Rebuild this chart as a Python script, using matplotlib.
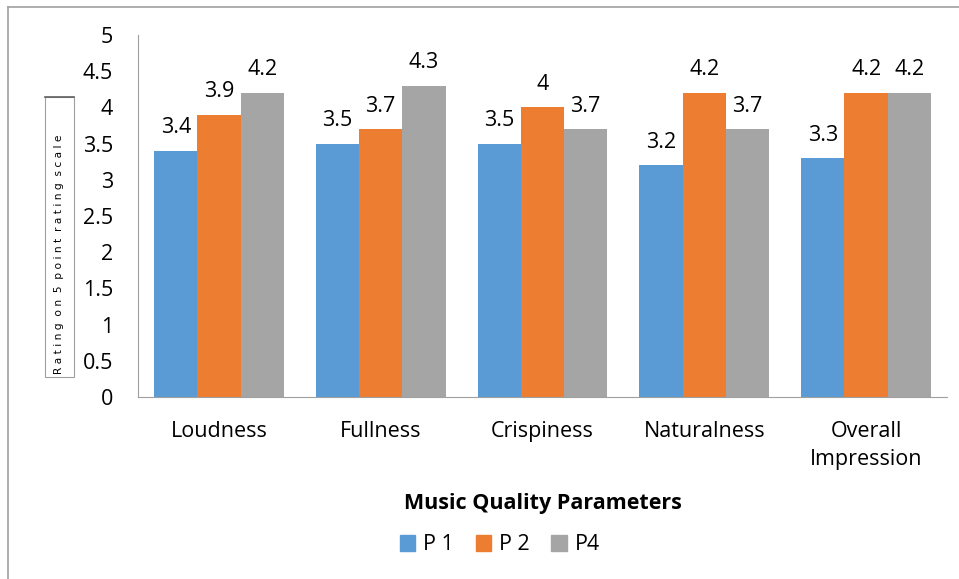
import matplotlib
matplotlib.use("Agg")
import matplotlib.pyplot as plt
import numpy as np
from matplotlib.patches import Rectangle
from matplotlib.lines import Line2D

categories = ["Loudness", "Fullness", "Crispiness", "Naturalness", "Overall\nImpression"]
series_names = ["P 1", "P 2", "P4"]
p1 = [3.4, 3.5, 3.5, 3.2, 3.3]
p2 = [3.9, 3.7, 4.0, 4.2, 4.2]
p4 = [4.2, 4.3, 3.7, 3.7, 4.2]
labels_p1 = ["3.4", "3.5", "3.5", "3.2", "3.3"]
labels_p2 = ["3.9", "3.7", "4", "4.2", "4.2"]
labels_p4 = ["4.2", "4.3", "3.7", "3.7", "4.2"]
colors = ["#5B9BD5", "#ED7D31", "#A5A5A5"]
yticks = [0, 0.5, 1, 1.5, 2, 2.5, 3, 3.5, 4, 4.5, 5]
ytick_labels = ["0", "0.5", "1", "1.5", "2", "2.5", "3", "3.5", "4", "4.5", "5"]

plt.rcParams['font.family'] = ['Open Sans', 'DejaVu Sans']

fig = plt.figure(figsize=(9.59, 5.79), dpi=100)
ax = fig.add_axes([138/959, 1-397/579, (947-138)/959, (397-35)/579])

x = np.arange(len(categories))
w = 0.267
for i, (vals, labs) in enumerate(zip([p1, p2, p4], [labels_p1, labels_p2, labels_p4])):
    bars = ax.bar(x + (i-1)*w, vals, w, color=colors[i], label=series_names[i])
    for b, l in zip(bars, labs):
        ax.annotate(l, (b.get_x()+b.get_width()/2, b.get_height()), xytext=(0, 9),
                    textcoords="offset points", ha="center", va="bottom", fontsize=15.5)

ax.set_xlim(-0.5, 4.5)
ax.set_ylim(0, 5)
ax.set_yticks(yticks)
ax.set_yticklabels(ytick_labels, fontsize=15.5)
ax.set_xticks(x)
ax.set_xticklabels(categories, fontsize=15.5, linespacing=1.45)
ax.tick_params(axis='both', length=0)
ax.tick_params(axis='x', pad=17)
ax.tick_params(axis='y', pad=18)
for s in ["top", "right"]:
    ax.spines[s].set_visible(False)
ax.spines["left"].set_color("#A0A0A0")
ax.spines["bottom"].set_color("#A0A0A0")

fig.text(543/959, 1-503/579, "Music Quality Parameters", ha="center", va="center",
         fontsize=15.5, fontweight="bold")

# y label box
fig.patches.append(Rectangle((45/959, 1-377/579), 29/959, 280/579, transform=fig.transFigure,
                             facecolor="white", edgecolor="#A0A0A0", lw=0.8))
fig.lines.append(Line2D([45/959, 74/959], [1-97/579, 1-97/579], transform=fig.transFigure,
                        color="#606060", lw=1.2))
fig.text(59.5/959, 1-254/579, "R a t i n g  o n  5  p o i n t  r a t i n g  s c a l e",
         rotation=90, ha="center", va="center", fontsize=7.7, family=["DejaVu Sans"])

# outer border lines
fig.lines.append(Line2D([8/959, 1], [1-7/579, 1-7/579], transform=fig.transFigure,
                        color="#A0A0A0", lw=1.2))
fig.lines.append(Line2D([8/959, 8/959], [0, 1-7/579], transform=fig.transFigure,
                        color="#A0A0A0", lw=1.2))

handles = [Rectangle((0, 0), 1, 1, color=c) for c in colors]
fig.legend(handles, series_names, loc="center", bbox_to_anchor=(500/959, 1-545/579),
           ncol=3, frameon=False, fontsize=15.5, handlelength=0.7, handleheight=0.7,
           handletextpad=0.4, columnspacing=1.0)

fig.savefig("out.png", dpi=100)
